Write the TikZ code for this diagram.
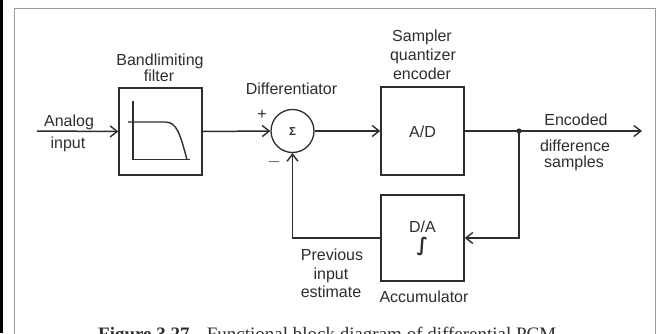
\documentclass[tikz,border=0pt]{standalone}
\usepackage{fontspec}
\setmainfont{Liberation Sans}
\newfontfamily\capfont{Liberation Serif}
\newfontfamily\symfont{DejaVu Sans}
\usetikzlibrary{arrows.meta}
\definecolor{ink}{HTML}{2E2E2E}
\definecolor{framegray}{HTML}{9A9A9A}
\tikzset{
  blockbox/.style={draw=ink, line width=1.4pt, minimum width=83pt, minimum height=87pt, inner sep=0pt},
  sumnode/.style={draw=ink, line width=1.3pt, circle, minimum size=43pt, inner sep=0pt},
  conn/.style={draw=ink, line width=1.5pt},
  arr/.style={conn, -{Straight Barb[length=7pt,width=11pt,line width=1.4pt]}},
  lbl/.style={text=ink, font=\fontsize{16}{19}\selectfont, inner sep=0pt, anchor=base}
}
\begin{document}
\begin{tikzpicture}[x=1pt,y=-1pt]
\useasboundingbox (0,0) rectangle (657,333);
\fill[white] (0,0) rectangle (657,333);
% frame
\fill[black] (0,0) rectangle (3.2,333);
\draw[framegray, line width=1.6pt] (14.5,340) -- (14.5,8.5) -- (655.5,8.5) -- (655.5,340);

% blocks
\node[blockbox] (filt) at (160.5,131.5) {};
\node[blockbox, minimum height=88pt] (ad) at (422.5,131) {};
\node[blockbox, minimum height=86pt] (da) at (422.5,238) {};
\node[sumnode] (sum) at (292.5,131) {};
\node[text=ink, font=\fontsize{11.5}{11.5}\selectfont\bfseries, inner sep=0pt] (sigma) at (292.5,132) {Σ};

% filter response graph
\draw[ink, line width=1.3pt] (133,101) -- (133,159.5) -- (190,159.5);
\draw[ink, line width=1.4pt] (128,122) -- (165,122) .. controls (177,122) and (180,134) .. (187,159.5);

% coordinates
\coordinate (in) at (37,131);
\coordinate (out) at (642,131);
\coordinate (dot) at (519,131);

% connectors
\draw[arr] (in) -- (filt.west);
\draw[arr] (filt.east) -- (sum.west);
\draw[arr] (sum.east) -- (ad.west);
\draw[arr] (ad.east) -- (out);
\draw[arr] (dot) |- (da.east);
\draw[arr] (da.west) -| (sum.south);
\fill[ink] (dot) circle (2.6pt);

% labels
\node[lbl] (l1) at (69,126) {Analog};
\node[lbl] (l2) at (68,148) {input};
\node[lbl] (l3) at (160,65) {Bandlimiting};
\node[lbl] (l4) at (159,81) {filter};
\node[lbl] (l5) at (291.5,94) {Differentiator};
\node[lbl] (l6) at (422,41) {Sampler};
\node[lbl] (l7) at (423,60) {quantizer};
\node[lbl] (l8) at (422,79) {encoder};
\node[lbl] (l9) at (422.5,137) {A/D};
\node[lbl] (l10) at (576,125) {Encoded};
\node[lbl] (l11) at (575,151) {difference};
\node[lbl] (l12) at (574,167) {samples};
\node[lbl] (l13) at (422.5,232) {D/A};
\node[text=ink, inner sep=0pt, anchor=base, font=\symfont\bfseries\itshape\fontsize{19}{19}\selectfont] (l14) at (422.5,251) {∫};
\node[lbl] (l15) at (424,302) {Accumulator};
\node[lbl] (l16) at (332,260) {Previous};
\node[lbl] (l17) at (331,279) {input};
\node[lbl] (l18) at (331,297) {estimate};
\node[text=ink, font=\fontsize{16}{16}\selectfont, inner sep=0pt] (plus) at (262,115) {+};
\node[text=ink, font=\fontsize{16}{16}\selectfont, inner sep=0pt] (minus) at (274,162) {$-$};

% caption (cut off at the bottom)
\node[text=ink, inner sep=0pt, anchor=base west, font=\capfont\fontsize{19}{19}\selectfont] (cap) at (98,340) {\textbf{Figure 3.27}\hspace{0.9em}Functional block diagram of differential PCM.};
\end{tikzpicture}
\end{document}
